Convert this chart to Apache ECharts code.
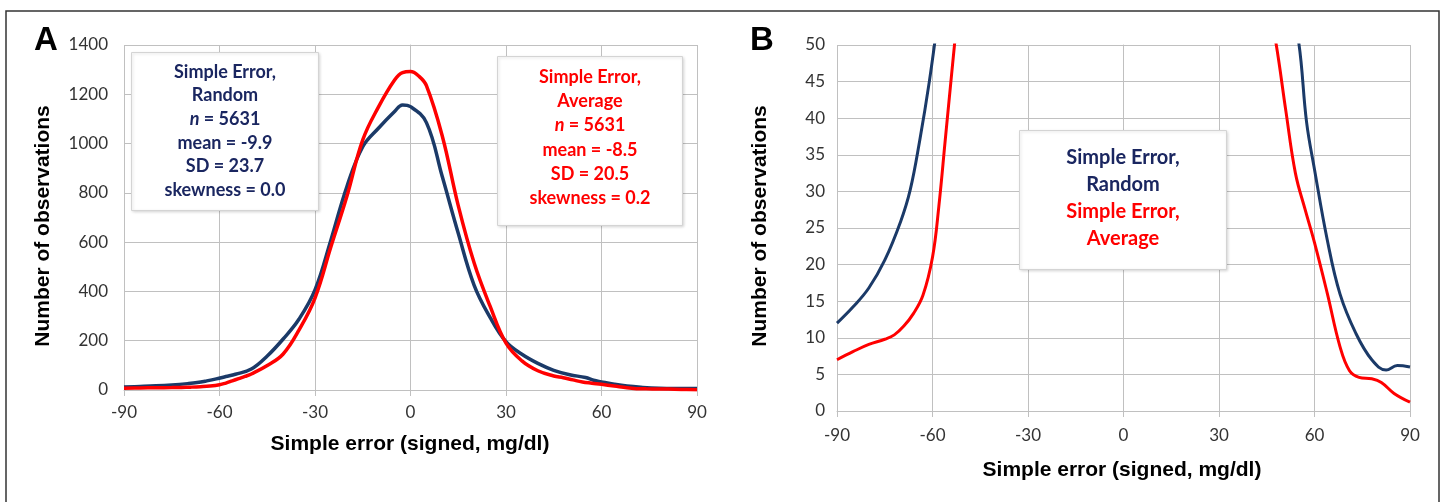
<!DOCTYPE html>
<html><head><meta charset="utf-8">
<script src="https://cdn.jsdelivr.net/npm/echarts@6/dist/echarts.min.js"></script>
<style>html,body{margin:0;padding:0;background:#fff}#c{width:1447px;height:502px}</style>
</head><body><div id="c"></div><script>
// Simple error (signed, mg/dl) sample positions and number of observations
const randomX = [-90,-85,-80,-75,-70,-67,-64,-61,-58,-55,-50,-45,-40,-35,-30,-25,-20,-15,-10,-5,-2.5,0,5,10,15,20,25,30,35,40,45,50,55,57.5,60,64,68,73,78,82.5,86,90];
const randomY = [12,14.2,16.8,20.6,25.9,30.2,37,45,54.5,64,85,138,207,288,406,609,825,987,1063,1130,1157,1150,1085,865,636,425,295,196,145,108,80,62,50.5,39.5,33,23.4,16,10.6,7,5.6,6.2,6.0];
const averageX = [-90,-85,-80,-75,-72,-69,-66,-63,-60,-58,-56,-54,-52,-50,-45,-40,-35,-30,-25,-20,-15,-10,-5,-2.5,0,2.5,5,10,15,20,25,30,35,40,45,48,51,54,57,60,64,68,71,74,78,81,85,90];
const averageY = [7,8.1,9.1,9.8,10.4,11.6,13.3,15.8,21,28,37,46,55,65,99,146,244,373,581,785,1015,1150,1258,1288,1292,1275,1235,1030,748,515,340,190,118,78,57,50,41,32.5,27.6,23,16.1,8.8,5.5,4.6,4.4,3.9,2.4,1.2];

const seriesNames = ['Simple Error, Random', 'Simple Error, Average'];
const boxRandomLines = ['Simple Error,', 'Random', '{i|n} = 5631', 'mean = -9.9', 'SD = 23.7', 'skewness = 0.0'];
const boxAverageLines = ['Simple Error,', 'Average', '{i|n} = 5631', 'mean = -8.5', 'SD = 20.5', 'skewness = 0.2'];
const legendBLines = ['Simple Error,', 'Random', 'Simple Error,', 'Average'];
const xTitle = 'Simple error (signed, mg/dl)';
const yTitle = 'Number of observations';

const NAVY_LINE = '#1b3a68';
const NAVY_TEXT = '#1a2660';
const RED = '#ff0000';
const GRID = '#c0c0c0';

const zip = (xs, ys) => xs.map((x, i) => [x, ys[i]]);

const chart = echarts.init(document.getElementById('c'), null, {renderer: 'canvas'});

const plain = v => String(v);
const xAxisBase = (gi, labelMargin) => ({
  type: 'value', gridIndex: gi, min: -90, max: 90, interval: 30,
  axisLine: {show: true, lineStyle: {color: GRID, width: 1}},
  axisTick: {show: true, length: 6, lineStyle: {color: GRID}},
  axisLabel: {color: '#333', fontFamily: 'Lato', fontSize: 17, margin: labelMargin, formatter: plain},
  splitLine: {show: true, lineStyle: {color: GRID, width: 1}}
});
const yAxisBase = (gi, max, interval, labelMargin) => ({
  type: 'value', gridIndex: gi, min: 0, max: max, interval: interval,
  axisLine: {show: true, lineStyle: {color: GRID, width: 1}},
  axisTick: {show: false},
  axisLabel: {color: '#333', fontFamily: 'Lato', fontSize: 17, margin: labelMargin, formatter: plain},
  splitLine: {show: true, lineStyle: {color: GRID, width: 1}}
});

function boxTexts(lines, cx, y0, step, color, size) {
  return lines.map((t, i) => ({
    type: 'text', x: cx, y: y0 + i * step, z: 20,
    style: {
      text: t, fill: color, align: 'center', verticalAlign: 'middle',
      font: 'bold ' + size + 'px Lato',
      rich: {i: {fontStyle: 'italic', fontWeight: 'bold', fontSize: size, fontFamily: 'Lato', fill: color, color: color}}
    }
  }));
}

const titleFont = 'bold 21px "Liberation Sans", Arial, sans-serif';

const option = {
  animation: false,
  backgroundColor: '#fff',
  grid: [
    {left: 124, top: 45, width: 573, height: 345},
    {left: 837, top: 45, width: 573, height: 366}
  ],
  xAxis: [xAxisBase(0, 14), xAxisBase(1, 16)],
  yAxis: [yAxisBase(0, 1400, 200, 16), yAxisBase(1, 50, 5, 12)],
  series: [
    {name: seriesNames[0], type: 'line', xAxisIndex: 0, yAxisIndex: 0, data: zip(randomX, randomY),
     smooth: 0.4, showSymbol: false, lineStyle: {color: NAVY_LINE, width: 3.5}, z: 3},
    {name: seriesNames[1], type: 'line', xAxisIndex: 0, yAxisIndex: 0, data: zip(averageX, averageY),
     smooth: 0.4, showSymbol: false, lineStyle: {color: RED, width: 3.5}, z: 4},
    {name: seriesNames[0], type: 'line', xAxisIndex: 1, yAxisIndex: 1, data: zip(randomX, randomY),
     smooth: 0.4, showSymbol: false, clip: true, lineStyle: {color: NAVY_LINE, width: 3}, z: 3},
    {name: seriesNames[1], type: 'line', xAxisIndex: 1, yAxisIndex: 1, data: zip(averageX, averageY),
     smooth: 0.4, showSymbol: false, clip: true, lineStyle: {color: RED, width: 3}, z: 4}
  ],
  graphic: [
    {type: 'rect', z: 0, shape: {x: 6, y: 11, width: 1433, height: 520},
     style: {fill: 'none', stroke: '#333', lineWidth: 1.5}},
    {type: 'text', x: 46, y: 41, style: {text: 'A', align: 'center', verticalAlign: 'middle', fill: '#000', font: 'bold 33px "Liberation Sans", Arial, sans-serif'}},
    {type: 'text', x: 762, y: 41, style: {text: 'B', align: 'center', verticalAlign: 'middle', fill: '#000', font: 'bold 33px "Liberation Sans", Arial, sans-serif'}},
    {type: 'text', x: 43, y: 226, rotation: Math.PI / 2, style: {text: yTitle, align: 'center', verticalAlign: 'middle', fill: '#000', font: titleFont}},
    {type: 'text', x: 760, y: 226, rotation: Math.PI / 2, style: {text: yTitle, align: 'center', verticalAlign: 'middle', fill: '#000', font: titleFont}},
    {type: 'text', x: 410, y: 444, style: {text: xTitle, align: 'center', verticalAlign: 'middle', fill: '#000', font: titleFont}},
    {type: 'text', x: 1122, y: 470, style: {text: xTitle, align: 'center', verticalAlign: 'middle', fill: '#000', font: titleFont}},
    {type: 'rect', z: 15, shape: {x: 131.5, y: 52.5, width: 187, height: 158},
     style: {fill: '#fff', stroke: '#d4d4d4', lineWidth: 1, shadowBlur: 3, shadowColor: 'rgba(0,0,0,0.15)', shadowOffsetX: 1, shadowOffsetY: 1}},
    {type: 'rect', z: 15, shape: {x: 497.5, y: 56.5, width: 185, height: 169},
     style: {fill: '#fff', stroke: '#d4d4d4', lineWidth: 1, shadowBlur: 3, shadowColor: 'rgba(0,0,0,0.15)', shadowOffsetX: 1, shadowOffsetY: 1}},
    {type: 'rect', z: 15, shape: {x: 1019.5, y: 130.5, width: 207, height: 139},
     style: {fill: '#fff', stroke: '#d4d4d4', lineWidth: 1, shadowBlur: 3, shadowColor: 'rgba(0,0,0,0.15)', shadowOffsetX: 1, shadowOffsetY: 1}},
    ...boxTexts(boxRandomLines, 225, 72, 23.6, NAVY_TEXT, 18),
    ...boxTexts(boxAverageLines, 590, 77, 24.3, RED, 18),
    ...boxTexts(legendBLines.slice(0, 2), 1123, 158, 26.7, NAVY_TEXT, 20),
    ...boxTexts(legendBLines.slice(2), 1123, 211.4, 26.7, RED, 20)
  ]
};
chart.setOption(option);
</script></body></html>
